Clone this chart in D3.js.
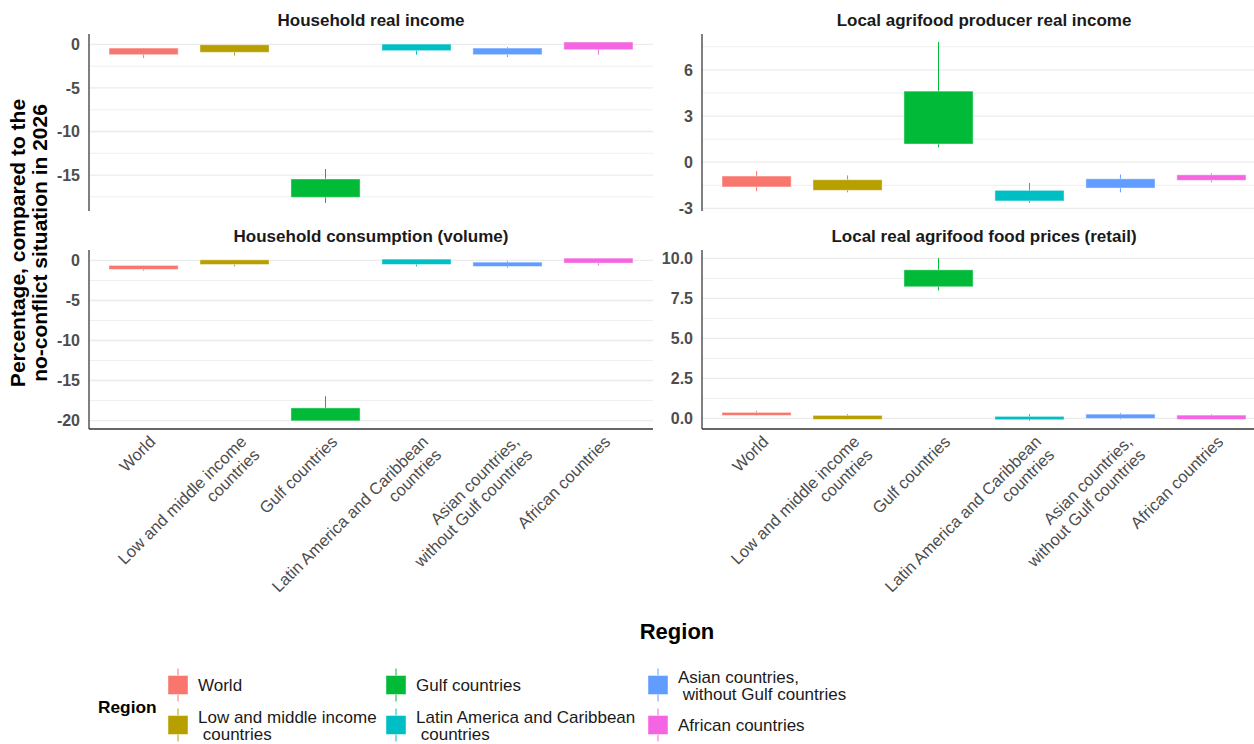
<!DOCTYPE html>
<html>
<head>
<meta charset="utf-8">
<script src="https://cdn.jsdelivr.net/npm/d3@7"></script>
<style>
  html, body { margin: 0; padding: 0; background: #fff; }
  svg { display: block; font-family: "Liberation Sans", Arial, sans-serif; }
</style>
</head>
<body>
<svg id="chart" width="1254" height="744"></svg>
<script>
// Regions (x categories, also the legend entries)
const regions = [
  "World",
  "Low and middle income\n countries",
  "Gulf countries",
  "Latin America and Caribbean\n countries",
  "Asian countries,\n without Gulf countries",
  "African countries"
];
const regionColors = ["#F8766D", "#B79F00", "#00BA38", "#00BFC4", "#619CFF", "#F564E3"];

// Indicator panels
const panelTitles = [
  "Household real income",
  "Local agrifood producer real income",
  "Household consumption (volume)",
  "Local real agrifood food prices (retail)"
];

// Per panel: low whisker, box bottom, box top, high whisker (one value per region)
const incomeLow   = [-1.56, -1.29, -18.2, -1.18, -1.45, -1.18];
const incomeQ1    = [-1.18, -0.91, -17.55, -0.72, -1.18, -0.61];
const incomeQ3    = [-0.42, -0.04, -15.45, 0.04, -0.42, 0.27];
const incomeHigh  = [-0.42, -0.04, -14.3, 0.04, -0.30, 0.27];

const producerLow  = [-1.89, -1.96, 0.97, -2.65, -1.96, -1.31];
const producerQ1   = [-1.61, -1.83, 1.18, -2.52, -1.68, -1.18];
const producerQ3   = [-0.90, -1.14, 4.62, -1.83, -1.08, -0.82];
const producerHigh = [-0.58, -0.86, 7.81, -1.35, -0.80, -0.71];

const consumptionLow  = [-1.29, -0.75, -20.04, -0.75, -0.91, -0.62];
const consumptionQ1   = [-1.12, -0.50, -20.04, -0.50, -0.75, -0.33];
const consumptionQ3   = [-0.62, 0.08, -18.42, 0.17, -0.21, 0.29];
const consumptionHigh = [-0.62, 0.08, -16.97, 0.17, -0.04, 0.29];

const pricesLow  = [0.19, -0.06, 8.00, -0.15, -0.06, -0.06];
const pricesQ1   = [0.19, -0.06, 8.23, -0.08, 0.00, -0.06];
const pricesQ3   = [0.38, 0.19, 9.29, 0.13, 0.27, 0.21];
const pricesHigh = [0.48, 0.27, 10.02, 0.27, 0.35, 0.27];

// Y tick values per panel (major), and minor breaks between them
const incomeTicks      = [0, -5, -10, -15];
const producerTicks    = [6, 3, 0, -3];
const consumptionTicks = [0, -5, -10, -15, -20];
const pricesTicks      = [0, 2.5, 5, 7.5, 10];
const incomeMinor      = [-2.5, -7.5, -12.5, -17.5];
const producerMinor    = [7.5, 4.5, 1.5, -1.5];
const consumptionMinor = [-2.5, -7.5, -12.5, -17.5];
const pricesMinor      = [1.25, 3.75, 6.25, 8.75];

// plain hyphen-minus for negative tick labels
const intFmt = v => String(v);
const oneDecFmt = v => v.toFixed(1);

const panelStats = [
  {low: incomeLow, q1: incomeQ1, q3: incomeQ3, high: incomeHigh, ticks: incomeTicks, minor: incomeMinor, fmt: intFmt},
  {low: producerLow, q1: producerQ1, q3: producerQ3, high: producerHigh, ticks: producerTicks, minor: producerMinor, fmt: intFmt},
  {low: consumptionLow, q1: consumptionQ1, q3: consumptionQ3, high: consumptionHigh, ticks: consumptionTicks, minor: consumptionMinor, fmt: intFmt},
  {low: pricesLow, q1: pricesQ1, q3: pricesQ3, high: pricesHigh, ticks: pricesTicks, minor: pricesMinor, fmt: oneDecFmt}
];

const svg = d3.select("#chart");
const W = 1254, H = 744;

// Facet grid geometry
const colX = [89, 702];
const panelW = 564;
const rowY = [34, 250];
const rowH = [177, 179];

const TEXT_DARK = "#1a1a1a";
const TEXT_GREY = "#4d4d4d";
const GRID = "#ebebeb";

panelStats.forEach((p, i) => {
  const col = i % 2, row = Math.floor(i / 2);
  const x0 = colX[col], y0 = rowY[row], h = rowH[row];

  // discrete axis with 0.6 expansion on each side
  const x = d3.scalePoint().domain(regions)
    .range([x0, x0 + panelW]).padding(0.6);
  const step = x.step();

  const lo = d3.min(p.low), hi = d3.max(p.high);
  const pad = (hi - lo) * 0.05;
  const y = d3.scaleLinear().domain([lo - pad, hi + pad]).range([y0 + h, y0]);

  const g = svg.append("g").attr("class", "panel");
  // clip so the rightmost panel ends at the canvas edge
  const clipId = "clip" + i;
  svg.append("clipPath").attr("id", clipId)
    .append("rect").attr("x", x0).attr("y", y0).attr("width", Math.min(panelW, W - x0)).attr("height", h);

  // minor and major horizontal grid lines
  g.selectAll(".minor").data(p.minor.filter(v => v >= y.domain()[0] && v <= y.domain()[1]))
    .join("line").attr("class", "minor")
    .attr("x1", x0).attr("x2", x0 + panelW)
    .attr("y1", d => y(d)).attr("y2", d => y(d))
    .attr("stroke", GRID).attr("stroke-width", 0.8)
    .attr("clip-path", `url(#${clipId})`);
  g.selectAll(".major").data(p.ticks)
    .join("line").attr("class", "major")
    .attr("x1", x0).attr("x2", x0 + panelW)
    .attr("y1", d => y(d)).attr("y2", d => y(d))
    .attr("stroke", GRID).attr("stroke-width", 1.3)
    .attr("clip-path", `url(#${clipId})`);

  // y axis via d3.axisLeft, styled
  const yAxis = g.append("g")
    .attr("transform", `translate(${x0},0)`)
    .call(d3.axisLeft(y).tickValues(p.ticks).tickFormat(p.fmt).tickSize(0).tickPadding(9));
  yAxis.select(".domain").remove();
  yAxis.selectAll("text")
    .attr("font-size", 16).attr("font-weight", "bold").attr("fill", TEXT_GREY)
    .attr("font-family", "'Liberation Sans', Arial, sans-serif");

  // axis lines
  g.append("line").attr("x1", x0).attr("x2", x0).attr("y1", y0).attr("y2", y0 + h)
    .attr("stroke", "#555").attr("stroke-width", 1.5);
  if (row === 1) {
    g.append("line").attr("x1", x0).attr("x2", x0 + panelW).attr("y1", y0 + h).attr("y2", y0 + h)
      .attr("stroke", "#333").attr("stroke-width", 1.5);
  }

  const boxW = step * 0.76;
  const items = regions.map((r, k) => ({r, k, low: p.low[k], q1: p.q1[k], q3: p.q3[k], high: p.high[k]}));

  const marks = g.append("g").attr("clip-path", `url(#${clipId})`);
  // whiskers
  marks.selectAll(".whisker").data(items).join("line")
    .attr("x1", d => x(d.r)).attr("x2", d => x(d.r))
    .attr("y1", d => y(d.high)).attr("y2", d => y(d.low))
    .attr("stroke", d => regionColors[d.k]).attr("stroke-width", 1);
  // boxes
  marks.selectAll(".box").data(items).join("rect")
    .attr("x", d => x(d.r) - boxW / 2).attr("width", boxW)
    .attr("y", d => y(d.q3)).attr("height", d => Math.max(1, y(d.q1) - y(d.q3)))
    .attr("fill", d => regionColors[d.k])
    .attr("stroke", "#fff").attr("stroke-opacity", 0.45).attr("stroke-width", 1);

  // panel strip title
  svg.append("text")
    .attr("x", x0 + panelW / 2).attr("y", y0 - 8)
    .attr("text-anchor", "middle")
    .attr("font-size", 17).attr("font-weight", "bold").attr("fill", TEXT_DARK)
    .text(panelTitles[i]);

  // rotated category labels under the bottom row
  if (row === 1) {
    regions.forEach(r => {
      const lines = r.split("\n");
      const t = svg.append("text")
        .attr("transform", `translate(${x(r) + 4},${y0 + h + 5}) rotate(-45)`)
        .attr("text-anchor", "end")
        .attr("font-size", 16.5).attr("fill", TEXT_GREY);
      lines.forEach((ln, li) => {
        t.append("tspan").attr("x", 0).attr("y", 12.5 + li * 18.5)
          .attr("xml:space", "preserve").text(ln);
      });
    });
  }
});

// y axis title
const yTitle = svg.append("text")
  .attr("transform", "translate(0,243) rotate(-90)")
  .attr("text-anchor", "middle")
  .attr("font-size", 21).attr("font-weight", "bold").attr("fill", "#000");
yTitle.append("tspan").attr("x", 0).attr("y", 25).text("Percentage, compared to the");
yTitle.append("tspan").attr("x", 0).attr("y", 47).text("no-conflict situation in 2026");

// x axis title
svg.append("text")
  .attr("x", 677).attr("y", 639)
  .attr("text-anchor", "middle")
  .attr("font-size", 22).attr("font-weight", "bold").attr("fill", "#000")
  .text("Region");

// legend
const legend = svg.append("g");
legend.append("text").attr("x", 98).attr("y", 713)
  .attr("font-size", 17.3).attr("font-weight", "bold").attr("fill", "#000").text("Region");

const legendColX = [168, 386, 648];
const legendRowY = [685, 725];
const keyW = 20, keyH = 19;
regions.forEach((r, k) => {
  const c = Math.floor(k / 2), rr = k % 2;
  const kx = legendColX[c], ky = legendRowY[rr];
  legend.append("line")
    .attr("x1", kx + keyW / 2).attr("x2", kx + keyW / 2)
    .attr("y1", ky - keyH / 2 - 7).attr("y2", ky + keyH / 2 + 7)
    .attr("stroke", regionColors[k]).attr("stroke-width", 1);
  legend.append("rect")
    .attr("x", kx).attr("y", ky - keyH / 2).attr("width", keyW).attr("height", keyH)
    .attr("fill", regionColors[k]).attr("stroke", "#fff").attr("stroke-opacity", 0.45);
  const lines = r.split("\n");
  const lh = 17;
  const t = legend.append("text").attr("font-size", 17).attr("fill", TEXT_DARK);
  lines.forEach((ln, li) => {
    t.append("tspan")
      .attr("x", kx + 30)
      .attr("y", ky + 6 - (lines.length - 1) * lh / 2 + li * lh)
      .attr("xml:space", "preserve").text(ln);
  });
});
</script>
</body>
</html>
